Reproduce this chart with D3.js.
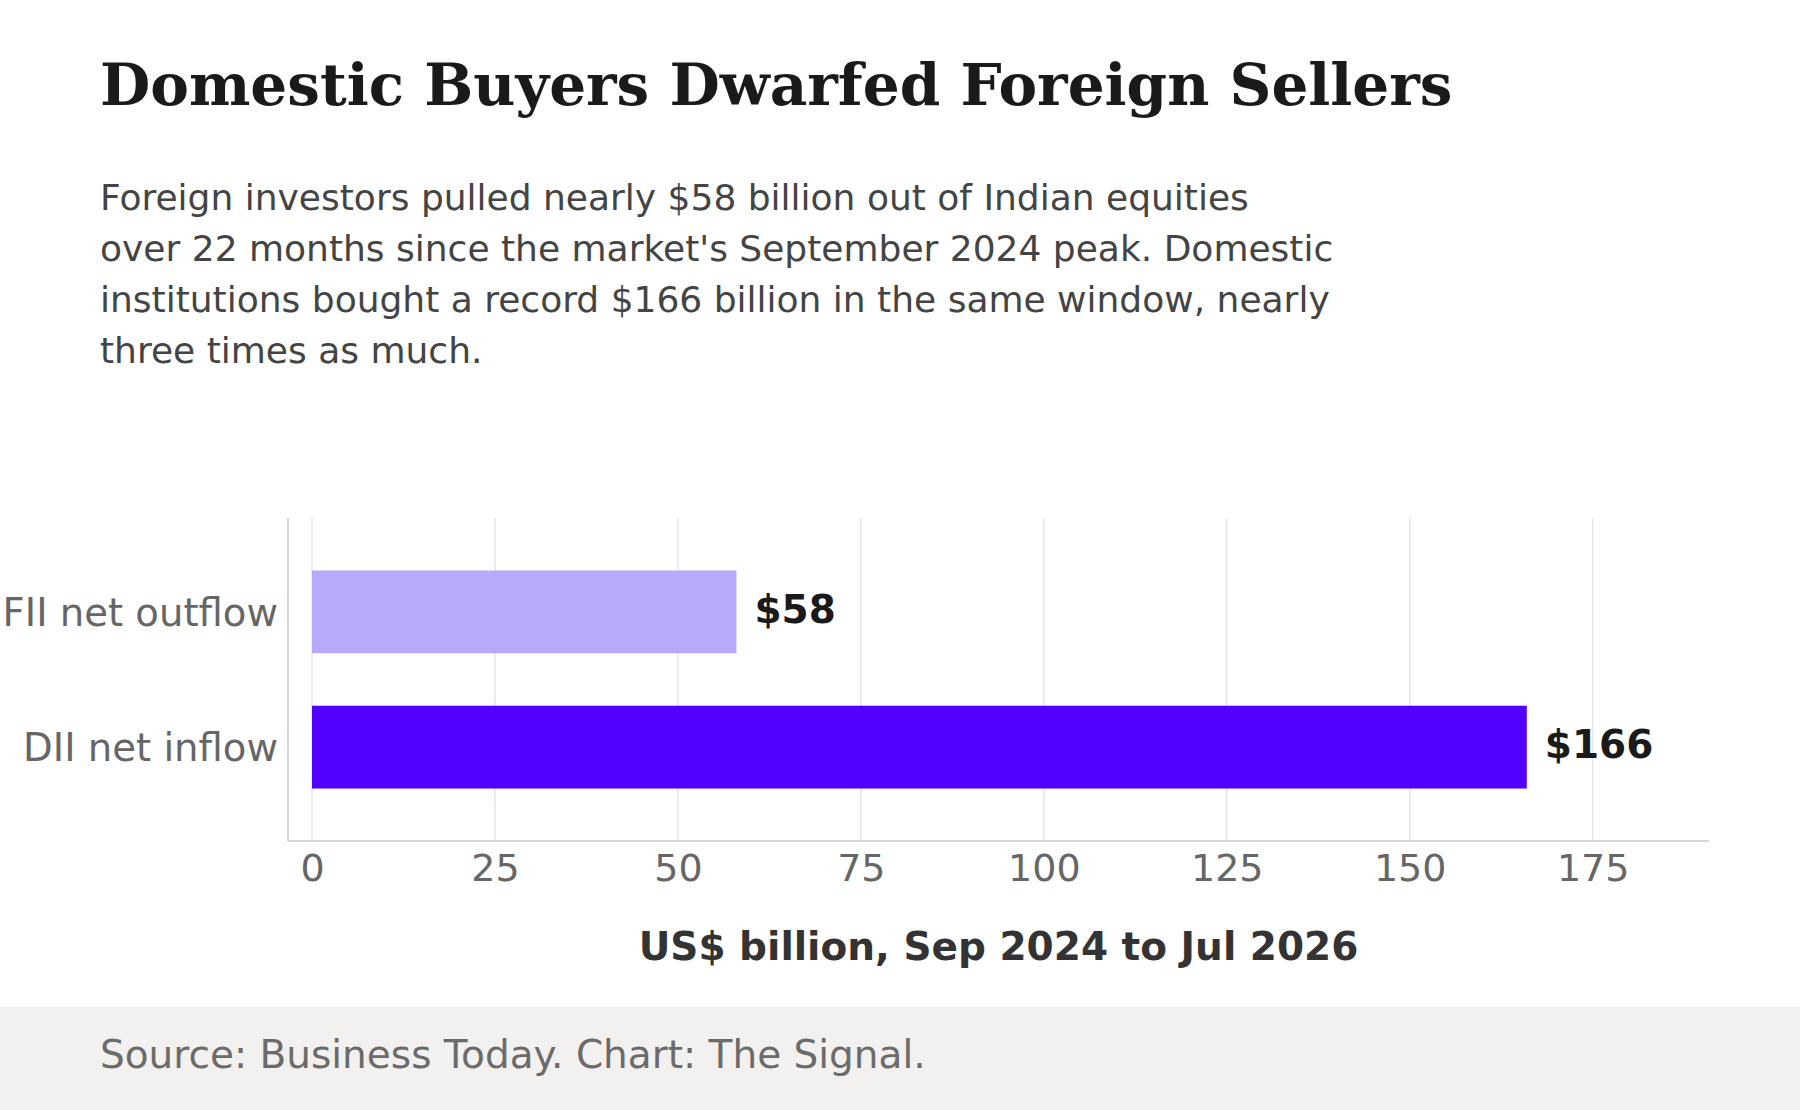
<!DOCTYPE html>
<html>
<head>
<meta charset="utf-8">
<script src="https://cdn.jsdelivr.net/npm/d3@7"></script>
<style>
  html, body { margin: 0; padding: 0; background: #ffffff; }
  svg { display: block; }
</style>
</head>
<body>
<svg id="chart" width="1800" height="1110"></svg>
<script>
const categories = ["FII net outflow", "DII net inflow"];
const values = [58, 166];
const valueLabels = ["$58", "$166"];
const barColors = ["#b8a9fd", "#5200ff"];
const xTicks = [0, 25, 50, 75, 100, 125, 150, 175];
const title = "Domestic Buyers Dwarfed Foreign Sellers";
const subtitleLines = [
  "Foreign investors pulled nearly $58 billion out of Indian equities",
  "over 22 months since the market's September 2024 peak. Domestic",
  "institutions bought a record $166 billion in the same window, nearly",
  "three times as much."
];
const xAxisTitle = "US$ billion, Sep 2024 to Jul 2026";
const sourceText = "Source: Business Today. Chart: The Signal.";

const W = 1800, H = 1110;
const svg = d3.select("#chart");
const sans = "'DejaVu Sans', sans-serif";

// Title
svg.append("text")
  .attr("x", 100).attr("y", 105)
  .attr("font-family", "'DejaVu Serif', serif")
  .attr("font-weight", "bold")
  .attr("font-size", 58)
  .attr("fill", "#1a1a1a")
  .text(title);

// Subtitle
svg.append("g").selectAll("text").data(subtitleLines).join("text")
  .attr("x", 100)
  .attr("y", (d, i) => 209.5 + i * 51)
  .attr("font-family", sans)
  .attr("font-size", 36)
  .attr("fill", "#444444")
  .text(d => d);

// Plot
const plotTop = 518, plotBottom = 841;
const axisLeft = 288, axisRight = 1709;
const x = d3.scaleLinear().domain([0, d3.max(values) * 1.15]).range([312, axisRight]);
const y = d3.scaleBand().domain(categories).range([plotTop, plotBottom]).paddingInner(0.388).paddingOuter(0.388);

// Grid
svg.append("g").selectAll("line").data(xTicks).join("line")
  .attr("x1", d => x(d)).attr("x2", d => x(d))
  .attr("y1", plotTop).attr("y2", plotBottom)
  .attr("stroke", "#e6e6e6").attr("stroke-width", 1.5);

// Bars
svg.append("g").selectAll("rect").data(values).join("rect")
  .attr("x", x(0))
  .attr("y", (d, i) => y(categories[i]))
  .attr("width", d => x(d) - x(0))
  .attr("height", y.bandwidth())
  .attr("fill", (d, i) => barColors[i]);

// Value labels
svg.append("g").selectAll("text").data(values).join("text")
  .attr("x", d => x(d) + 18)
  .attr("y", (d, i) => y(categories[i]) + y.bandwidth() / 2)
  .attr("dy", "0.29em")
  .attr("font-family", sans)
  .attr("font-weight", "bold")
  .attr("font-size", 39)
  .attr("fill", "#1a1a1a")
  .text((d, i) => valueLabels[i]);

// Axis lines
svg.append("line")
  .attr("x1", axisLeft).attr("x2", axisLeft)
  .attr("y1", plotTop).attr("y2", plotBottom)
  .attr("stroke", "#d9d7d2").attr("stroke-width", 2);
svg.append("line")
  .attr("x1", axisLeft).attr("x2", axisRight)
  .attr("y1", plotBottom).attr("y2", plotBottom)
  .attr("stroke", "#d9d7d2").attr("stroke-width", 2);

// X axis ticks
const xAxis = d3.axisBottom(x).tickValues(xTicks).tickSize(0).tickPadding(13);
const gx = svg.append("g").attr("transform", `translate(0,${plotBottom})`).call(xAxis);
gx.select(".domain").remove();
gx.selectAll("text")
  .attr("font-family", sans)
  .attr("font-size", 38)
  .attr("fill", "#666666");

// Y axis labels
const yAxis = d3.axisLeft(y).tickSize(0).tickPadding(10);
const gy = svg.append("g").attr("transform", `translate(${axisLeft},0)`).call(yAxis);
gy.select(".domain").remove();
gy.selectAll("text")
  .attr("font-family", sans)
  .attr("font-size", 38.6)
  .attr("dy", "0.37em")
  .attr("fill", "#666666");

// X axis title
svg.append("text")
  .attr("x", (axisLeft + axisRight) / 2).attr("y", 960)
  .attr("text-anchor", "middle")
  .attr("font-family", sans)
  .attr("font-weight", "bold")
  .attr("font-size", 39)
  .attr("fill", "#333333")
  .text(xAxisTitle);

// Footer
svg.append("rect")
  .attr("x", 0).attr("y", 1007).attr("width", W).attr("height", H - 1007)
  .attr("fill", "#f2f1ef");
svg.append("text")
  .attr("x", 100).attr("y", 1068)
  .attr("font-family", sans)
  .attr("font-size", 39)
  .attr("fill", "#6b6b6b")
  .text(sourceText);
</script>
</body>
</html>
